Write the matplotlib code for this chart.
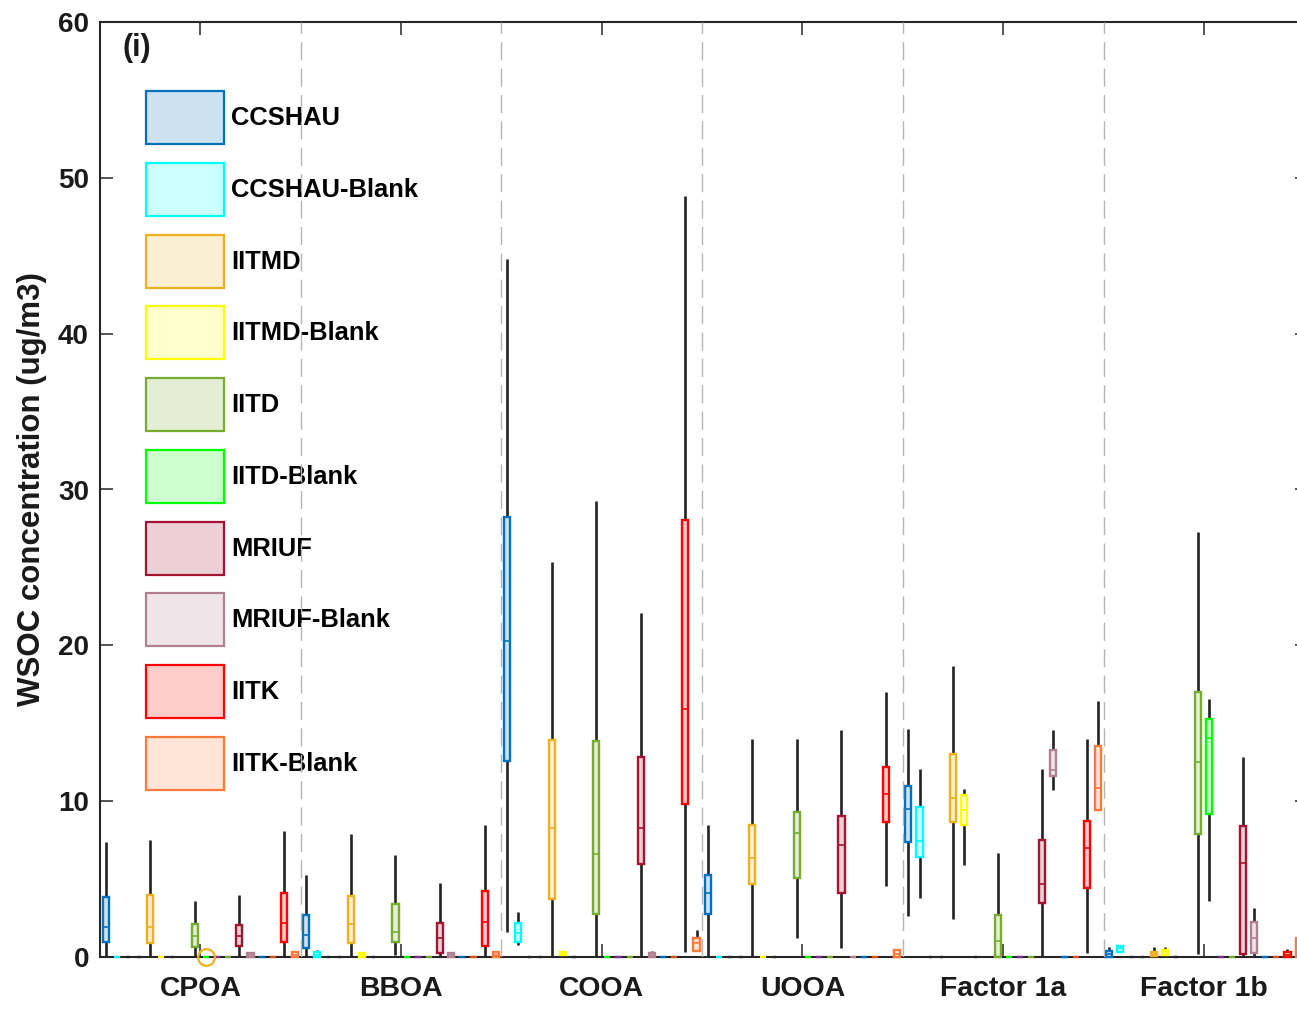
import matplotlib
matplotlib.use('Agg')
import matplotlib.pyplot as plt
from matplotlib.patches import Patch
from matplotlib.colors import to_rgb

plt.rcParams['font.family'] = ['Liberation Sans', 'DejaVu Sans']
plt.rcParams['font.weight'] = 'bold'

# ---------------- data ----------------
groups = ['CPOA', 'BBOA', 'COOA', 'UOOA', 'Factor 1a', 'Factor 1b']
series = ['CCSHAU', 'CCSHAU-Blank', 'IITMD', 'IITMD-Blank', 'IITD', 'IITD-Blank',
          'MRIUF', 'MRIUF-Blank', 'IITK', 'IITK-Blank']
series_colors = ['#0072BD', '#00FFFF', '#EDB120', '#FFFF00', '#77AC30', '#00FF00',
                 '#A2142F', '#B0808F', '#FF0000', '#FF7A3A']

# (whislo, q1, median, q3, whishi) for each group in order of `groups`
CCSHAU = [(0.00, 0.94, 1.94, 3.87, 7.40), (0.00, 0.60, 1.41, 2.70, 5.26),
          (1.58, 12.58, 20.30, 28.22, 44.80), (0.00, 2.74, 4.13, 5.26, 8.47),
          (2.65, 7.36, 9.48, 10.97, 14.63), (0.00, 0.00, 0.20, 0.38, 0.66)]
CCSHAU_Blank = [(0, 0, 0, 0, 0), (0.00, 0.00, 0.15, 0.33, 0.42),
                (0.77, 0.94, 1.52, 2.20, 2.90), (0, 0, 0, 0, 0),
                (3.77, 6.44, 7.44, 9.60, 12.04), (0.34, 0.34, 0.55, 0.73, 0.73)]
IITMD = [(0.00, 0.88, 1.94, 3.98, 7.50), (0.00, 0.92, 2.12, 3.91, 7.87),
         (0.00, 3.72, 8.28, 13.93, 25.35), (0.00, 4.66, 6.37, 8.47, 14.00),
         (2.44, 8.64, 10.18, 13.03, 18.67), (0.00, 0.05, 0.20, 0.34, 0.62)]
IITMD_Blank = [(0, 0, 0, 0, 0), (0.00, 0.00, 0.10, 0.25, 0.25),
               (0.13, 0.13, 0.20, 0.34, 0.34), (0, 0, 0, 0, 0),
               (5.90, 8.47, 9.43, 10.40, 10.78), (0.15, 0.15, 0.30, 0.45, 0.62)]
IITD = [(0.00, 0.66, 1.37, 2.12, 3.60), (0.13, 0.94, 1.58, 3.40, 6.55),
        (0.00, 2.76, 6.61, 13.88, 29.28), (1.20, 5.09, 7.94, 9.33, 14.00),
        (0.00, 0.00, 1.05, 2.70, 6.69), (0.17, 7.87, 12.49, 16.99, 27.25)]
IITD_Blank = [(0, 0, 0, 0, 0), (0, 0, 0, 0, 0), (0, 0, 0, 0, 0), (0, 0, 0, 0, 0),
              (0, 0, 0, 0, 0), (3.59, 9.18, 14.03, 15.25, 16.54)]
MRIUF = [(0.00, 0.70, 1.37, 2.05, 4.00), (0.00, 0.28, 1.20, 2.16, 4.77),
         (0.00, 5.95, 8.26, 12.86, 22.05), (0.60, 4.08, 7.19, 9.07, 14.59),
         (0.00, 3.44, 4.68, 7.51, 12.06), (0.00, 0.17, 6.01, 8.41, 12.86)]
MRIUF_Blank = [(0.00, 0.00, 0.10, 0.24, 0.24), (0.00, 0.00, 0.10, 0.24, 0.24),
               (0.00, 0.00, 0.10, 0.25, 0.40), (0, 0, 0, 0, 0),
               (10.72, 11.63, 12.00, 13.28, 14.57), (0.00, 0.24, 1.20, 2.27, 3.12)]
IITK = [(0.00, 0.98, 2.16, 4.13, 8.10), (0.00, 0.70, 2.27, 4.23, 8.50),
        (0.30, 9.80, 15.90, 28.04, 48.84), (4.58, 8.64, 10.46, 12.21, 16.99),
        (0.28, 4.41, 7.02, 8.75, 13.97), (0.00, 0.00, 0.15, 0.30, 0.51)]
IITK_Blank = [(0.00, 0.00, 0.15, 0.34, 0.34), (0.00, 0.00, 0.15, 0.34, 0.34),
              (0.38, 0.38, 0.92, 1.24, 1.73), (0.00, 0.00, 0.20, 0.45, 0.45),
              (9.43, 9.43, 10.82, 13.54, 16.45), (0.00, 0.00, 0.60, 1.20, 1.20)]

series_data = [CCSHAU, CCSHAU_Blank, IITMD, IITMD_Blank, IITD, IITD_Blank,
               MRIUF, MRIUF_Blank, IITK, IITK_Blank]

# slot layout inside each group (18 slots per group)
slots_per_group = 18
series_slots = [0, 1, 4, 5, 8, 9, 12, 13, 16, 17]
# other (all-zero) boxes shown as small marks on the baseline
empty_slots = [2, 3, 6, 10, 11, 14, 15]
empty_colors = ['#262626', '#262626', '#262626', '#7E2F8E', '#77AC30', '#0072BD', '#D95319']
empty_values = [0, 0, 0, 0, 0, 0, 0]

# highlighted point (circle) : group index, series name, value
circle_group = 0
circle_series = 'IITD-Blank'
circle_value = 0.0

ylabel = 'WSOC concentration (ug/m3)'
panel_label = '(i)'

# ---------------- figure ----------------
W, H = 1297, 1010
fig = plt.figure(figsize=(W / 100, H / 100), dpi=100)
ax_left, ax_bottom, ax_top = 100, 53, 22
slot_px = 11.15
n_slots = slots_per_group * len(groups)
x_right = n_slots + 0.8
ax_w = slot_px * (x_right - 0.5)
ax = fig.add_axes([ax_left / W, ax_bottom / H, ax_w / W, (H - ax_top - ax_bottom) / H])


def mkstat(t):
    lo, q1, med, q3, hi = t
    return dict(whislo=lo, q1=q1, med=med, q3=q3, whishi=hi, fliers=[])


stats, positions, colors, widths = [], [], [], []
for g in range(len(groups)):
    for s, slot in enumerate(series_slots):
        stats.append(mkstat(series_data[s][g]))
        positions.append(g * slots_per_group + slot + 1)
        colors.append(series_colors[s])
        widths.append(0.55)
    for k, slot in enumerate(empty_slots):
        v = empty_values[k]
        stats.append(mkstat((v, v, v, v, v)))
        positions.append(g * slots_per_group + slot + 1)
        colors.append(empty_colors[k])
        widths.append(0.3 if empty_colors[k] == '#262626' else 0.55)

res = ax.bxp(stats, positions=positions, widths=widths, patch_artist=True,
             showcaps=False, showfliers=False,
             whiskerprops=dict(color='#222222', linewidth=1.9, solid_capstyle='butt'),
             medianprops=dict(linewidth=1.2),
             boxprops=dict(linewidth=1.7),
             manage_ticks=False, zorder=3)

for i, (box, med) in enumerate(zip(res['boxes'], res['medians'])):
    c = colors[i]
    r, gg, b = to_rgb(c)
    box.set_facecolor((r, gg, b, 0.2))
    box.set_edgecolor(c)
    box.set_clip_on(False)
    st = stats[i]
    if st['q3'] - st['q1'] < 0.05:
        box.set_joinstyle('round')
    med.set_color(c)
    med.set_clip_on(False)
for w in res['whiskers']:
    w.set_zorder(2.5)

# highlighted circle
cpos = circle_group * slots_per_group + series_slots[series.index(circle_series)] + 1
ax.plot([cpos], [circle_value], 'o', mfc='none', mec='#EDB120', ms=12, mew=1.6,
        clip_on=False, zorder=6)

# group separators
for g in range(1, len(groups)):
    ax.axvline(g * slots_per_group + 0.5, color='#b5b5b5', lw=1.0, dashes=(13, 6), zorder=7)

ax.set_xlim(0.5, x_right)
ax.set_ylim(0, 60)
ax.set_yticks(range(0, 61, 10))
ax.set_xticks([g * slots_per_group + (slots_per_group + 1) / 2 for g in range(len(groups))])
ax.set_xticklabels(groups)
ax.tick_params(axis='both', direction='in', top=True, right=True, length=9.4, width=1.1,
               color='#262626', labelcolor='#1a1a1a')
ax.tick_params(axis='x', labelsize=20.4, pad=14)
ax.tick_params(axis='y', labelsize=20, pad=8)
for lab in ax.get_xticklabels() + ax.get_yticklabels():
    lab.set_fontweight('bold')
for sp in ax.spines.values():
    sp.set_linewidth(1.5)
    sp.set_color('#262626')

ax.set_ylabel(ylabel, fontsize=22.5, fontweight='bold', color='#1a1a1a')
ax.yaxis.set_label_coords(-(100 - 47) / ax_w, 0.5)

ax.text(0.5 + 22 / slot_px, (957 - 48.5) / (935 / 60), panel_label, fontsize=22,
        fontweight='bold', ha='left', va='center', color='#1a1a1a')

handles = []
for name, c in zip(series, series_colors):
    r, gg, b = to_rgb(c)
    handles.append(Patch(facecolor=(r, gg, b, 0.2), edgecolor=c, linewidth=1.6, label=name))
leg = ax.legend(handles=handles, loc='upper left',
                bbox_to_anchor=(146 / W, 1 - 91 / H), bbox_transform=fig.transFigure,
                frameon=False, borderpad=0, borderaxespad=0,
                handlelength=3.05, handleheight=2.813, labelspacing=0.735,
                handletextpad=0.27, prop=dict(weight='bold', size=18.4))
leg.set_zorder(5)

fig.savefig('out.png', dpi=100)
